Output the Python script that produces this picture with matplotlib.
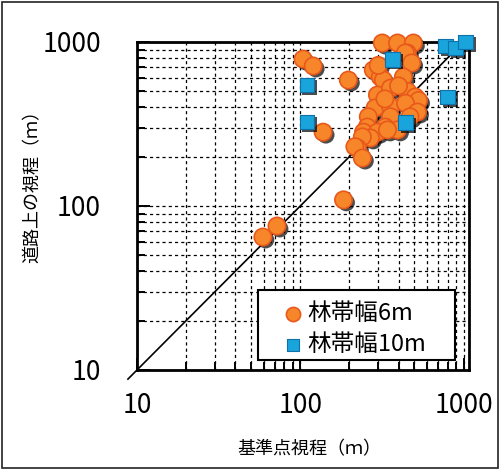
import matplotlib
matplotlib.use('Agg')
import matplotlib.pyplot as plt
import matplotlib.patheffects as pe
from matplotlib.patches import Rectangle
from matplotlib.ticker import LogLocator, NullFormatter, FuncFormatter

plt.rcParams['font.family'] = ['Noto Sans CJK JP', 'DejaVu Sans']

# data (m)
x6 = [104, 120, 197, 138, 318, 394, 493, 453, 440, 481, 280, 309, 323, 428,
      297, 357, 453, 506, 530, 287, 357, 441, 522, 261, 357, 470, 257, 331,
      394, 244, 297, 342, 269, 240, 224, 216, 240, 184, 72, 59, 330, 400, 300]
y6 = [787, 714, 586, 282, 986, 986, 986, 857, 857, 745, 675, 612, 586, 612,
      475, 523, 500, 462, 440, 396, 404, 423, 374, 350, 350, 350, 303, 303,
      291, 282, 282, 291, 260, 264, 226, 230, 196, 109, 75.5, 64.7, 450, 540, 720]
x10 = [110, 110, 367, 441, 776, 893, 1029, 798]
y10 = [547, 325, 787, 321, 946, 919, 1000, 462]

labels = ['林帯幅6m', '林帯幅10m']
xlabel = '基準点視程（ｍ）'
ylabel = '道路上の視程（ｍ）'

orange = '#F7862A'
orange_edge = '#E8581A'
blue = '#19A4DC'
blue_edge = '#1070A8'

fig = plt.figure(figsize=(5.01, 4.70), dpi=100)
fig.patches.append(Rectangle((0.004, 0.005), 0.991, 0.99, transform=fig.transFigure,
                             fill=False, edgecolor='#222222', lw=1.2))
ax = fig.add_axes([137/501, 1-370/470, 332/501, 328/470])

ax.set_xscale('log')
ax.set_yscale('log')
ax.set_xlim(10, 1080)
ax.set_ylim(10, 1000)

# grid
for a in (ax.xaxis, ax.yaxis):
    a.set_major_locator(LogLocator(base=10))
    a.set_minor_locator(LogLocator(base=10, subs=range(2, 10)))
    a.set_minor_formatter(NullFormatter())
    a.set_major_formatter(FuncFormatter(lambda v, p: '%d' % v))
ax.grid(True, which='both', color='black', linestyle=(0, (2.5, 2.5)), linewidth=0.9)
ax.set_axisbelow(True)

ax.tick_params(which='both', direction='in', top=False, right=False, width=1.4)
ax.tick_params(which='major', length=9, labelsize=19)
ax.tick_params(which='minor', length=6)
ax.tick_params(axis='x', which='major', pad=16)
ax.tick_params(axis='y', which='major', pad=26)
for s in ax.spines.values():
    s.set_linewidth(2)

# 1:1 line
ax.plot([8.8, 1000], [8.8, 1000], color='black', lw=1.2, clip_on=False, zorder=2)

shadow = [pe.SimplePatchShadow(offset=(2, -2), shadow_rgbFace='black', alpha=0.7), pe.Normal()]
ax.scatter(x6, y6, s=155, marker='o', c=orange, edgecolors=orange_edge, linewidths=1.2,
           clip_on=False, zorder=3, path_effects=shadow, label=labels[0])
ax.scatter(x10, y10, s=115, marker='s', c=blue, edgecolors=blue_edge, linewidths=0.8,
           clip_on=False, zorder=4, path_effects=shadow, label=labels[1])

# legend box drawn separately so the padding matches
ax.add_patch(Rectangle((0.3645, 0.0305), 0.5935, 0.2135, transform=ax.transAxes,
                       facecolor='white', edgecolor='black', lw=1.5, zorder=5))
leg = ax.legend(loc='center left', bbox_to_anchor=(0.438, 0.125), borderaxespad=0,
                fontsize=17, frameon=False, handletextpad=0.15, labelspacing=0.35,
                borderpad=0, handlelength=0.9, markerscale=0.82)
leg.set_zorder(6)
for h in leg.legend_handles:
    h.set_path_effects([])

fig.text(309/501, 1-449/470, xlabel, ha='center', va='center', fontsize=13)
fig.text(33/501, 1-182/470, ylabel, ha='center', va='center', rotation=90, fontsize=13)

fig.savefig('out.png', dpi=100)
